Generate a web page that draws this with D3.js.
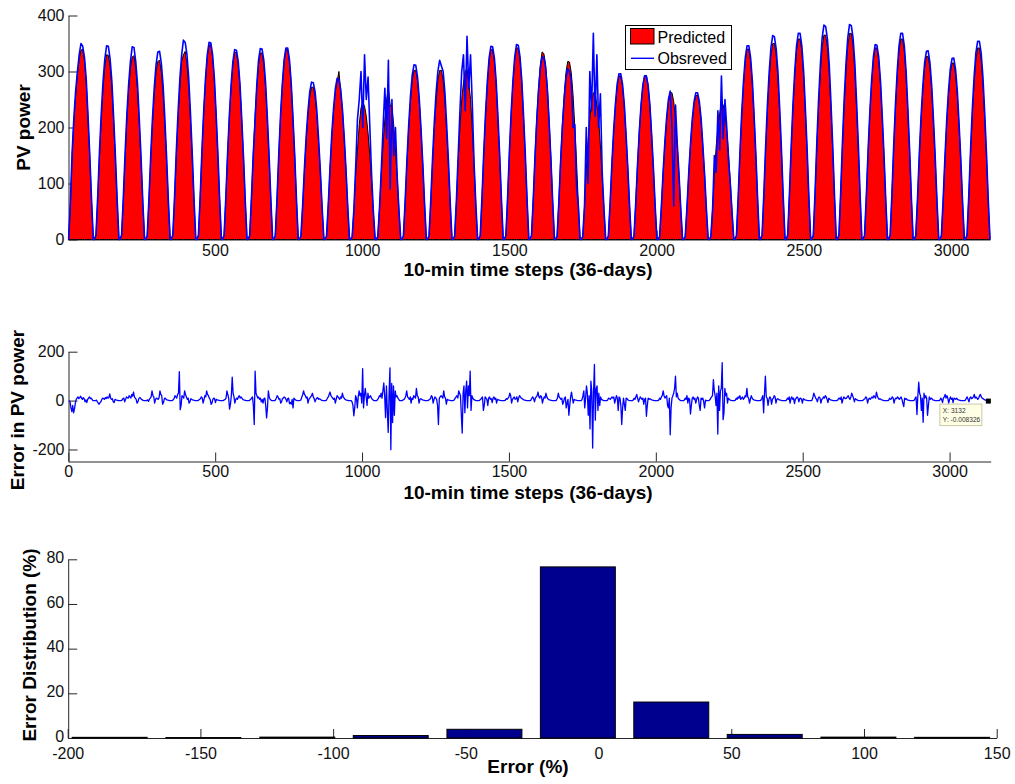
<!DOCTYPE html>
<html>
<head>
<meta charset="utf-8">
<script src="https://cdn.jsdelivr.net/npm/d3@7"></script>
<style>
  html, body { margin: 0; padding: 0; background: #fff; }
  svg { display: block; font-family: "Liberation Sans", Arial, Helvetica, sans-serif; }
</style>
</head>
<body>
<svg id="chart" width="1015" height="784"></svg>
<script>
// ---- data -------------------------------------------------------------
// 36 days of 10-minute steps (87 per day); each row holds one day,
// sampled at the offsets below (step = day * 87 + offset).
const stepsPerDay = 87;
const sampleOffsets = [3, 9, 15, 21, 27, 33, 39, 45, 51, 57, 63, 69, 75, 81, 87];
const errorOffsets = [3, 6, 9, 12, 15, 18, 21, 24, 27, 30, 33, 36, 39, 42, 45,
                      48, 51, 54, 57, 60, 63, 66, 69, 72, 75, 78, 81, 84, 87];

// predicted PV power (red area)
const predicted = [
  [0, 60, 150, 212, 258, 295, 322, 338, 340, 320, 280, 216, 146, 66, 0],
  [0, 7, 73, 150, 216, 270, 310, 330, 329, 310, 270, 210, 143, 67, 0],
  [0, 7, 72, 148, 215, 267, 306, 326, 328, 306, 268, 208, 142, 66, 0],
  [0, 6, 70, 145, 209, 261, 300, 318, 320, 299, 261, 203, 138, 64, 0],
  [0, 7, 74, 152, 219, 273, 318, 330, 336, 313, 273, 212, 145, 67, 0],
  [0, 7, 77, 158, 228, 284, 326, 347, 348, 326, 284, 221, 150, 70, 0],
  [0, 7, 74, 152, 219, 273, 313, 334, 334, 313, 273, 212, 145, 67, 0],
  [0, 7, 74, 151, 218, 272, 312, 333, 333, 312, 272, 212, 144, 67, 0],
  [0, 7, 75, 154, 222, 277, 318, 339, 339, 318, 277, 215, 147, 68, 0],
  [0, 6, 60, 124, 179, 223, 256, 272, 272, 256, 223, 173, 118, 55, 0],
  [0, 6, 63, 128, 185, 231, 265, 282, 300, 265, 231, 180, 123, 57, 0],
  [0, 5, 53, 118, 160, 205, 235, 245, 238, 220, 190, 150, 103, 48, 0],
  [0, 5, 56, 120, 170, 215, 250, 270, 240, 235, 205, 160, 110, 51, 0],
  [0, 6, 67, 137, 198, 247, 284, 302, 302, 284, 247, 192, 131, 61, 0],
  [0, 6, 67, 137, 198, 247, 284, 302, 302, 284, 247, 192, 131, 61, 0],
  [0, 6, 67, 140, 200, 250, 280, 300, 305, 280, 250, 195, 131, 61, 0],
  [0, 7, 75, 154, 222, 277, 318, 339, 339, 318, 277, 215, 147, 68, 0],
  [0, 7, 76, 155, 224, 279, 321, 342, 342, 321, 279, 217, 148, 69, 0],
  [0, 7, 74, 151, 218, 271, 312, 335, 332, 312, 271, 211, 144, 67, 0],
  [0, 6, 70, 144, 208, 259, 298, 318, 317, 298, 259, 202, 138, 64, 0],
  [0, 5, 58, 125, 175, 215, 246, 262, 262, 240, 215, 167, 114, 53, 0],
  [0, 6, 65, 133, 192, 239, 274, 292, 292, 274, 239, 186, 127, 59, 0],
  [0, 6, 65, 133, 192, 240, 275, 293, 293, 275, 240, 186, 127, 59, 0],
  [0, 5, 58, 119, 172, 215, 246, 262, 262, 246, 215, 167, 114, 53, 0],
  [0, 5, 57, 117, 169, 211, 242, 257, 257, 242, 211, 164, 112, 52, 0],
  [0, 5, 54, 115, 165, 200, 225, 245, 240, 225, 195, 155, 105, 49, 0],
  [0, 7, 75, 154, 223, 278, 319, 340, 340, 319, 278, 216, 147, 69, 0],
  [0, 7, 78, 159, 230, 287, 329, 350, 350, 329, 287, 223, 152, 71, 0],
  [0, 7, 80, 163, 235, 293, 337, 358, 358, 337, 293, 228, 156, 72, 0],
  [0, 7, 81, 166, 240, 299, 343, 365, 365, 343, 299, 232, 159, 74, 0],
  [0, 7, 82, 167, 242, 301, 346, 368, 368, 346, 301, 234, 160, 74, 0],
  [0, 7, 76, 155, 224, 279, 321, 342, 342, 321, 279, 217, 148, 69, 0],
  [0, 7, 80, 163, 235, 293, 337, 358, 358, 337, 293, 228, 156, 72, 0],
  [0, 7, 73, 149, 215, 267, 307, 327, 327, 307, 267, 208, 142, 66, 0],
  [0, 6, 70, 143, 207, 258, 296, 315, 315, 296, 258, 200, 137, 64, 0],
  [0, 7, 76, 155, 224, 279, 321, 342, 342, 321, 279, 217, 148, 69, 0]
];

// observed PV power (blue line)
const observed = [
  [0, 65, 155, 218, 265, 300, 330, 350, 345, 325, 285, 220, 150, 70, 0],
  [0, 8, 78, 158, 226, 282, 322, 346, 345, 322, 282, 218, 148, 70, 0],
  [0, 8, 76, 155, 224, 278, 318, 344, 343, 318, 278, 216, 147, 68, 0],
  [0, 7, 74, 150, 218, 272, 312, 335, 336, 314, 275, 214, 144, 67, 0],
  [0, 8, 78, 160, 230, 288, 330, 356, 352, 330, 288, 224, 152, 71, 0],
  [0, 8, 78, 160, 231, 288, 330, 352, 351, 330, 288, 224, 152, 71, 0],
  [0, 7, 75, 154, 222, 277, 318, 339, 338, 318, 277, 215, 147, 68, 0],
  [0, 7, 75, 150, 210, 275, 320, 341, 340, 320, 279, 217, 148, 69, 0],
  [0, 7, 76, 155, 224, 279, 321, 342, 342, 321, 279, 217, 148, 69, 0],
  [0, 6, 62, 128, 185, 230, 264, 281, 280, 264, 230, 179, 122, 57, 0],
  [0, 6, 64, 130, 190, 235, 270, 288, 285, 268, 232, 182, 125, 58, 0],
  [0, 5, 55, 130, 215, 250, 300, 200, 330, 250, 290, 200, 115, 50, 0],
  [0, 5, 58, 125, 200, 270, 180, 320, 90, 250, 150, 200, 110, 50, 0],
  [0, 6, 69, 142, 205, 256, 294, 312, 311, 290, 250, 195, 133, 62, 0],
  [0, 6, 71, 145, 210, 262, 300, 320, 310, 300, 262, 203, 139, 65, 0],
  [0, 6, 70, 150, 230, 300, 330, 230, 363, 270, 330, 240, 135, 62, 0],
  [0, 7, 77, 157, 226, 282, 324, 345, 344, 324, 282, 219, 150, 70, 0],
  [0, 7, 77, 158, 228, 284, 326, 348, 347, 326, 284, 221, 151, 70, 0],
  [0, 7, 72, 148, 214, 267, 306, 326, 325, 306, 266, 207, 141, 66, 0],
  [0, 6, 68, 140, 202, 250, 288, 305, 300, 285, 200, 205, 95, 60, 0],
  [0, 5, 60, 200, 100, 300, 230, 368, 220, 330, 200, 260, 120, 55, 0],
  [0, 6, 66, 135, 195, 242, 278, 296, 296, 278, 242, 188, 128, 60, 0],
  [0, 6, 65, 133, 192, 240, 275, 292, 292, 275, 240, 186, 127, 59, 0],
  [0, 5, 59, 121, 175, 218, 250, 265, 200, 60, 240, 170, 115, 53, 0],
  [0, 5, 58, 119, 172, 215, 246, 262, 262, 246, 215, 167, 114, 53, 0],
  [0, 5, 55, 150, 120, 230, 160, 292, 180, 250, 200, 140, 100, 48, 0],
  [0, 7, 77, 157, 227, 283, 325, 346, 346, 325, 283, 220, 150, 70, 0],
  [0, 8, 81, 165, 239, 298, 342, 364, 362, 340, 298, 232, 158, 74, 0],
  [0, 8, 82, 168, 242, 301, 346, 368, 368, 346, 301, 234, 160, 74, 0],
  [0, 8, 85, 174, 251, 313, 360, 383, 380, 358, 313, 243, 166, 77, 0],
  [0, 8, 85, 174, 252, 314, 360, 384, 382, 360, 314, 244, 167, 78, 0],
  [0, 7, 77, 158, 228, 284, 326, 348, 347, 326, 284, 221, 151, 70, 0],
  [0, 8, 82, 168, 242, 301, 346, 368, 368, 346, 301, 234, 160, 74, 0],
  [0, 7, 75, 153, 221, 275, 316, 336, 337, 316, 275, 214, 146, 68, 0],
  [0, 7, 72, 147, 213, 265, 304, 323, 324, 304, 265, 206, 141, 65, 0],
  [0, 8, 79, 161, 233, 290, 333, 354, 354, 333, 290, 226, 154, 72, 0]
];

// error in PV power (middle panel), one row per day at errorOffsets
const powerError = [
  [0, -5, -30, -45, -20, -50, -35, -10, 5, 10, 15, 8, 12, 18, 10, 5, 12, 8, -5, 3, -8, 5, 10, 15, 8, 10, 5, 0, 0],
  [0, 0, 2, -5, -10, -15, -8, -5, 5, 10, 8, 5, 12, 8, 15, 10, 12, 27, 10, 5, 8, -5, -8, 5, 3, 2, 1, 0, 0],
  [0, 0, 2, 8, 10, -5, 5, 15, 12, 10, 20, 15, 10, 25, 18, 35, 15, 10, 5, -10, -5, 8, 12, 10, 5, 3, 1, 0, 0],
  [0, 0, 3, -3, 5, 10, 15, 40, 20, 15, -10, 5, 10, 8, 5, 12, 40, 25, 20, -15, -8, 8, 10, 5, 3, 2, 1, 0, 0],
  [0, 0, 3, 8, 20, 15, 10, 25, 30, 118, -37, -20, 20, 15, 10, 40, 25, 15, 5, 10, -10, -5, 8, 5, 3, 2, 1, 0, 0],
  [0, 0, 2, 5, 8, 15, 10, -10, 5, 20, 15, 40, 25, 20, 10, 5, -15, -10, 5, 10, 8, -8, 5, 3, 2, 1, 0, 0, 0],
  [0, 0, 3, 5, 10, 40, 25, 10, -35, -15, 20, 96, 30, 15, -10, 5, 10, 5, 15, 20, 10, 15, 10, 5, 3, 2, 1, 0, 0],
  [0, 0, 2, 5, 10, 15, -20, -98, 120, 30, 20, 10, 15, 5, 10, -5, 5, -10, 8, 10, -20, -71, -30, 40, 15, 5, 2, 0, 0],
  [0, 0, 2, 10, 20, 15, 5, 8, -10, -5, 8, 10, 15, 12, 5, -5, 8, 10, -12, -8, -15, 5, -30, 10, 5, 2, 1, 0, 0],
  [0, 0, 3, 15, 25, 40, 25, 20, 10, 15, -10, 5, 10, 15, 20, 30, 15, 8, -5, 5, 10, 12, 5, 8, 5, 2, 1, 0, 0],
  [0, 0, 2, 10, 15, 25, 35, 20, 15, 10, 5, 10, -10, 5, 20, 15, 10, 5, 15, 10, 30, 15, 10, 5, 3, 2, 1, 0, 0],
  [0, 0, -5, -20, -62, -30, 20, 10, -30, 15, 40, 20, 30, -10, 131, -30, 20, 50, 15, -20, 30, 10, 15, 20, 10, 5, 2, 0, 0],
  [0, 0, 5, 10, 20, 15, 30, 10, 40, 72, 20, -70, 60, -40, -130, 30, 134, -201, 70, -90, 60, -60, 40, 15, 20, 10, 5, 0, 0],
  [0, 0, 3, 5, 10, 20, 40, 15, 10, 5, 15, -10, 10, 5, 20, 15, 10, 50, 20, 15, -10, 5, 8, 5, 3, 2, 1, 0, 0],
  [0, 0, 2, 5, 8, 20, 15, -10, 5, 15, 10, 5, -20, -98, 10, 15, 20, 15, 10, 40, 15, 10, -15, 5, 3, 2, 1, 0, 0],
  [0, 0, 3, 10, 15, 20, 10, 40, 30, 20, -60, -133, 30, 60, -50, 40, 80, -30, 60, 20, 120, -40, 20, 10, 5, 3, 1, 0, 0],
  [0, 0, 2, 5, 10, 15, -40, -20, 15, 10, 5, -20, 10, 15, 5, 8, -8, 10, 15, 5, 10, -10, 5, 3, 2, 1, 0, 0, 0],
  [0, 0, 2, 8, 5, 10, 15, 30, 20, -10, 5, 10, 15, 5, 8, 15, -5, 10, 20, 15, 10, 8, 5, 3, 2, 1, 0, 0, 0],
  [0, 0, 2, 10, 15, 8, -5, 10, 15, 20, 35, 15, 10, 20, 15, -10, 5, 15, 10, 30, 15, 8, 5, 3, 2, 1, 0, 0, 0],
  [0, 0, 2, 10, 30, 15, 10, 5, 10, -15, -5, 10, 15, -30, -10, 5, -60, -20, 15, 35, 10, -10, 5, 3, 2, 1, 0, 0, 0],
  [0, 0, 5, 20, 40, -30, 10, 60, 30, -60, 20, -116, 80, 40, -194, 30, 148, -80, 50, 60, -40, 30, -20, 15, 5, 3, 1, 0, 0],
  [0, 0, 2, 10, 8, 5, 10, 15, 10, 15, -10, 5, 20, 10, -40, 15, 10, -20, -98, -30, 10, -15, -40, 10, 8, 3, 1, 0, 0],
  [0, 0, 2, 10, 5, 15, 25, 10, -5, 5, 15, 10, 5, 10, -15, 5, 10, -64, -20, 10, 5, 8, 5, 3, 2, 1, 0, 0, 0],
  [0, 0, 2, 10, 5, 15, 20, 40, 20, 10, 15, 20, -20, -30, 10, -140, -30, 10, 20, 30, 50, 100, 15, 30, 10, 5, 2, 0, 0],
  [0, 0, 2, 10, 5, 20, -10, 10, 5, -55, -20, 10, 15, 5, 10, -10, 5, 15, 10, -20, -40, 10, 5, 10, -5, -30, 2, 0, 0],
  [0, 0, 3, 10, 15, 20, 86, 40, 20, -20, 30, -137, 60, -40, 40, 50, 155, -78, -50, 50, 20, 30, -10, 10, 5, 2, 1, 0, 0],
  [0, 0, 2, 10, 5, 15, 10, 20, 5, 10, 15, 5, 10, 20, 15, 50, 15, 10, -10, 5, 20, 10, 5, 3, 2, 1, 0, 0, 0],
  [0, 0, 2, 10, 20, -50, 30, 100, 15, 10, -20, 5, 15, 10, -15, 5, 10, 20, 15, -10, 5, 8, 5, 3, 2, 1, 0, 0, 0],
  [0, 0, 2, 10, 5, 15, -10, 8, 15, 5, 10, -12, 5, 10, 15, 10, -5, 8, 10, 5, -10, 8, 5, 3, 2, 1, 0, 0, 0],
  [0, 0, 2, 15, 30, 20, 10, 5, -5, 10, 15, 10, -10, 5, 8, 15, 10, 20, 15, 5, -8, 10, 5, 3, 2, 1, 0, 0, 0],
  [0, 0, 2, 8, 10, 5, 15, -10, 5, 15, 10, 8, 10, 15, 20, 10, 5, 15, 30, 20, 10, -5, 8, 5, 3, 1, 0, 0, 0],
  [0, 0, 2, 5, 8, 15, 10, -10, 5, 10, 5, 10, 15, 10, 20, 15, 10, 35, 20, 10, 5, 8, 5, 3, 2, 1, 0, 0, 0],
  [0, 0, 2, 10, 5, 8, 15, 10, -10, 5, 10, 8, 15, 10, 5, 10, 15, 5, -10, -25, 10, 5, 8, 3, 2, 1, 0, 0, 0],
  [0, 0, 2, 10, 15, -57, 20, 75, 30, 20, -40, 10, -89, 30, 10, 20, 10, -60, -20, 15, 5, 10, 8, 3, 2, 1, 0, 0, 0],
  [0, 0, 2, 10, 5, -8, 10, 15, 25, 10, 20, 10, -10, 5, 15, 5, 10, -8, 10, 8, 5, 10, 5, 3, 2, 1, 0, 0, 0],
  [0, 0, 2, 10, 15, 5, -5, 10, 15, 8, 10, 15, 25, 10, 15, 10, 5, 10, 20, 25, 15, 10, 8, 5, 3, 2, 1, 0, -0.008326]
];

// error distribution histogram (bin centre in %, share of samples in %)
const errorBinCenters = [-184.2, -148.9, -113.5, -78.3, -43.0, -7.8, 27.4, 62.6, 97.9, 133.2];
const errorBinPercent = [0.3, 0.2, 0.4, 1.1, 3.9, 76.6, 16.1, 1.6, 0.4, 0.3];

// tick values
const powerTicks = [0, 100, 200, 300, 400];
const stepTicksTop = [500, 1000, 1500, 2000, 2500, 3000];
const stepTicksErr = [0, 500, 1000, 1500, 2000, 2500, 3000];
const errorTicks = [-200, 0, 200];
const distTicks = [0, 20, 40, 60, 80];
const pctTicks = [-200, -150, -100, -50, 0, 50, 100, 150];

// ---- helpers ----------------------------------------------------------
const FONT = '"Liberation Sans", Arial, Helvetica, sans-serif';
const AXIS_COLOR = '#262626';
const svg = d3.select('#chart');
const plain = d => String(d);   // hyphen-minus, as the plotting tool prints it

function toSeries(rows, offsets) {
  return rows.flatMap((row, d) =>
    row.map((v, i) => ({ step: d * stepsPerDay + offsets[i], value: v })));
}

function styleAxis(g) {
  g.attr('font-family', FONT).attr('font-size', 16);
  g.select('.domain').attr('stroke', AXIS_COLOR).attr('stroke-width', 1);
  g.selectAll('.tick line').attr('stroke', AXIS_COLOR).attr('stroke-width', 1);
  g.selectAll('.tick text').attr('fill', '#111');
}

function title(text, x, y, rotate) {
  svg.append('text')
    .attr('transform', `translate(${x},${y})` + (rotate ? ' rotate(-90)' : ''))
    .attr('text-anchor', 'middle')
    .attr('font-family', FONT)
    .attr('font-weight', 'bold')
    .attr('font-size', 19)
    .attr('fill', '#000')
    .text(text);
}

// ---- panel 1: predicted vs observed -----------------------------------
const predSeries = toSeries(predicted, sampleOffsets);
const obsSeries = toSeries(observed, sampleOffsets);

const xTop = d3.scaleLinear().domain([1, 3132]).range([68, 990]);
const yTop = d3.scaleLinear().domain([0, 400]).range([239.5, 15.5]);

svg.append('g').attr('transform', 'translate(0,239.5)')
  .call(d3.axisBottom(xTop).tickValues(stepTicksTop).tickFormat(plain)
    .tickSizeInner(-9).tickSizeOuter(0).tickPadding(5))
  .call(styleAxis);
svg.append('g').attr('transform', 'translate(68.5,0)')
  .call(d3.axisLeft(yTop).tickValues(powerTicks).tickFormat(plain)
    .tickSizeInner(-9).tickSizeOuter(0).tickPadding(4))
  .call(styleAxis);

svg.append('path')
  .datum(predSeries)
  .attr('fill', '#ff0000')
  .attr('stroke', '#000')
  .attr('stroke-width', 1)
  .attr('stroke-linejoin', 'round')
  .attr('d', d3.area().x(d => xTop(d.step)).y0(yTop(0)).y1(d => yTop(d.value)));

svg.append('path')
  .datum(obsSeries)
  .attr('fill', 'none')
  .attr('stroke', '#0000ff')
  .attr('stroke-width', 1.6)
  .attr('stroke-linejoin', 'round')
  .attr('d', d3.line().x(d => xTop(d.step)).y(d => yTop(d.value)));

// legend
const lg = svg.append('g').attr('font-family', FONT).attr('font-size', 16);
lg.append('rect').attr('x', 625.5).attr('y', 25.5).attr('width', 106).attr('height', 44)
  .attr('fill', '#fff').attr('stroke', '#000').attr('stroke-width', 1);
lg.append('rect').attr('x', 630.5).attr('y', 28.5).attr('width', 23.5).attr('height', 15.5)
  .attr('fill', '#ff0000').attr('stroke', '#000').attr('stroke-width', 1);
lg.append('text').attr('x', 657.5).attr('y', 43).text('Predicted');
lg.append('line').attr('x1', 631).attr('x2', 654).attr('y1', 58.3).attr('y2', 58.3)
  .attr('stroke', '#0000ff').attr('stroke-width', 1.4);
lg.append('text').attr('x', 657.5).attr('y', 63.5).text('Obsreved');

title('PV power', 30, 127.5, true);
title('10-min time steps (36-days)', 528, 276, false);

// ---- panel 2: error in PV power --------------------------------------
const errSeries = toSeries(powerError, errorOffsets);
const xErr = d3.scaleLinear().domain([0, 3140]).range([68.3, 990.7]);
const yErr = d3.scaleLinear().domain([-250, 200]).range([461.7, 351.7]);

svg.append('g').attr('transform', 'translate(0,461.5)')
  .call(d3.axisBottom(xErr).tickValues(stepTicksErr).tickFormat(plain)
    .tickSizeInner(-9).tickSizeOuter(0).tickPadding(4))
  .call(styleAxis);
svg.append('g').attr('transform', 'translate(68.5,0)')
  .call(d3.axisLeft(yErr).tickValues(errorTicks).tickFormat(plain)
    .tickSizeInner(-9).tickSizeOuter(0).tickPadding(4))
  .call(styleAxis);

svg.append('path')
  .datum(errSeries)
  .attr('fill', 'none')
  .attr('stroke', '#0000ff')
  .attr('stroke-width', 1.3)
  .attr('stroke-linejoin', 'round')
  .attr('d', d3.line().x(d => xErr(d.step)).y(d => yErr(d.value)));

// data tip on the last sample
const tip = errSeries[errSeries.length - 1];
const tx = xErr(tip.step), ty = yErr(tip.value);
svg.append('rect').attr('x', tx - 2.5).attr('y', ty - 2).attr('width', 5).attr('height', 5)
  .attr('fill', '#000');
const tg = svg.append('g').attr('transform', `translate(${tx - 49},${ty + 3})`)
  .attr('font-family', FONT).attr('font-size', 6.6).attr('fill', '#333');
tg.append('rect').attr('x', 0.5).attr('y', 0.5).attr('width', 42).attr('height', 21.5)
  .attr('fill', '#ffffe6').attr('stroke', '#c9c9a8').attr('stroke-width', 1);
tg.append('text').attr('x', 3.5).attr('y', 9.5).text('X: ' + tip.step);
tg.append('text').attr('x', 3.5).attr('y', 18.8).text('Y: ' + tip.value);

title('Error in PV power', 24, 410, true);
title('10-min time steps (36-days)', 528, 499, false);

// ---- panel 3: error distribution -------------------------------------
const xPct = d3.scaleLinear().domain([-200, 150]).range([67.7, 996.7]);
const yPct = d3.scaleLinear().domain([0, 80]).range([738, 559.3]);

svg.append('g').attr('transform', 'translate(0,738)')
  .call(d3.axisBottom(xPct).tickValues(pctTicks).tickFormat(plain)
    .tickSizeInner(-9).tickSizeOuter(0).tickPadding(10))
  .call(styleAxis);
svg.append('g').attr('transform', 'translate(68.2,0)')
  .call(d3.axisLeft(yPct).tickValues(distTicks).tickFormat(plain)
    .tickSizeInner(-9).tickSizeOuter(0).tickPadding(4))
  .call(styleAxis)
  .call(g => g.selectAll('.tick text').attr('dy', '0.2em'));

const binSpan = errorBinCenters[1] - errorBinCenters[0];
const barW = (xPct(binSpan) - xPct(0)) * 0.8;
svg.append('g').selectAll('rect')
  .data(errorBinCenters.map((c, i) => ({ c, p: errorBinPercent[i] })))
  .join('rect')
  .attr('x', d => xPct(d.c) - barW / 2)
  .attr('y', d => yPct(d.p))
  .attr('width', barW)
  .attr('height', d => yPct(0) - yPct(d.p))
  .attr('fill', '#00008f')
  .attr('stroke', '#000')
  .attr('stroke-width', 1);

title('Error Distribution (%)', 36, 645, true);
title('Error (%)', 528, 773, false);
</script>
</body>
</html>
